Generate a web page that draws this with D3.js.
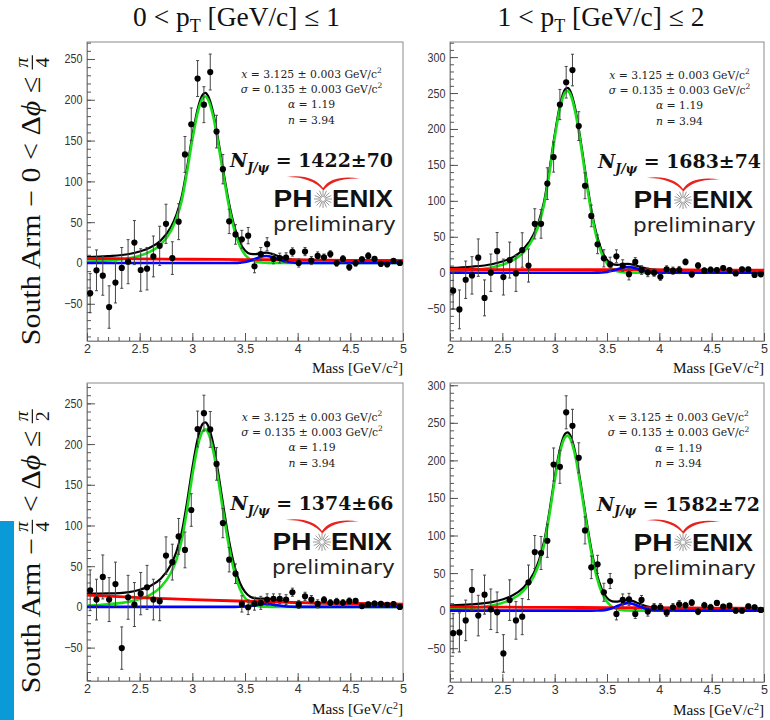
<!DOCTYPE html>
<html>
<head>
<meta charset="utf-8">
<title>J/ψ signal, South Arm</title>
<script src="https://cdn.jsdelivr.net/npm/d3@7"></script>
<style>
  html, body { margin: 0; padding: 0; background: #fff; }
  svg { display: block; }
</style>
</head>
<body>
<svg id="fig" width="770" height="720"></svg>
<script>
// ---------- binning and sampling grids (GeV/c^2) ----------
const binMass = [2.03, 2.09, 2.15, 2.21, 2.27, 2.33, 2.39, 2.45, 2.51, 2.57,
                 2.63, 2.69, 2.75, 2.81, 2.87, 2.93, 2.99, 3.05, 3.11, 3.17,
                 3.23, 3.29, 3.35, 3.41, 3.47, 3.53, 3.59, 3.65, 3.71, 3.77,
                 3.83, 3.89, 3.95, 4.01, 4.07, 4.13, 4.19, 4.25, 4.31, 4.37,
                 4.43, 4.49, 4.55, 4.61, 4.67, 4.73, 4.79, 4.85, 4.91, 4.97];
const curveMass = [2.0, 2.2, 2.4, 2.5, 2.6, 2.7, 2.8, 2.85, 2.9, 2.95, 3.0, 3.05, 3.1, 3.125, 3.15,
                   3.2, 3.25, 3.3, 3.35, 3.4, 3.45, 3.5, 3.55, 3.6, 3.65, 3.7, 3.75, 3.8, 3.9, 4.0, 4.5, 5.0];
const bkgMass = [2.0, 2.5, 3.0, 3.5, 4.0, 4.5, 5.0];
const xTicks = [2, 2.5, 3, 3.5, 4, 4.5, 5];

// ---------- 0 < pT <= 1, 0 < dphi <= pi/4 ----------
const countsA = [-37, -9, -15.5, -54, -24, -6, 1.6, 25, -8.6, -7, 8, 21, 48, 6, 50.6, 133, 170, 226, 194, 234,
                 161, 115, 51, 35, 29, 33.5, -4, 11, 23, 5, 6, 6.5, 13.5, 0, 14, 3, 8.6, 7, 11, 0,
                 5, -5, 0, 4.5, 8.6, 5, -1, -1.6, 2.5, 0];
const errorsA = [24, 25, 24, 26, 25, 25, 27, 27, 26, 26, 25, 24, 24, 20, 22, 22, 20, 22, 22, 22,
                 20, 18, 15, 12, 11, 10, 8, 8, 8, 6, 6, 6, 5, 5, 5, 5, 5, 4, 4, 4,
                 4, 4, 4, 3, 4, 3, 3, 3, 3, 3];
const jpsiA = [1.7, 3.1, 5.9, 9.0, 14.0, 22.6, 40.0, 55.0, 77.0, 112.0, 151.0, 184.0, 202.0, 204.0, 200.0,
               178.5, 143.0, 104.0, 68.0, 40.0, 21.0, 10.0, 4.3, 1.6, 0.5, 0.2, 0, 0, 0, 0, 0, 0];
const psi2sA = [0, 0, 0, 0, 0, 0, 0, 0, 0, 0, 0, 0, 0, 0, 0, 0, 0, 0, 0,
                0.1, 0.4, 1.1, 2.8, 5.2, 7.5, 8.5, 7.5, 5.2, 1.1, 0.1, 0, 0];
const bkgA = [5.5, 5.0, 4.6, 4.2, 3.7, 3.3, 2.8];
const totalA = [7.2, 8.4, 11.0, 14.0, 18.9, 27.5, 44.8, 59.7, 81.7, 116.6, 155.6, 188.5, 206.5, 208.5, 204.5,
                182.9, 147.4, 108.3, 72.3, 44.3, 25.6, 15.3, 11.2, 10.9, 12.0, 12.7, 11.4, 9.1, 4.9, 3.8, 3.3, 2.8];
const yRangeA = [-95.6, 270.8];
const yTicksA = [-50, 0, 50, 100, 150, 200, 250];
const yieldA = ["1422", "70"];

// ---------- 1 < pT <= 2, 0 < dphi <= pi/4 ----------
const countsB = [-25, -51, -9.8, -3.7, 21, -35, 0, 30, -6, 17.6, -1, 31.6, 10, 68, 68, 124, 161, 234, 265, 282,
                 204, 121, 79, 39.5, 20, 11.6, 22.8, 10, -2, 15, 3.7, 0.5, 0, -5.6, 4.6, 2.8, 3.7, 15, -2.3, 10,
                 2.8, 4, 3.7, 6.5, 3.7, -1, 4.6, 4.6, -3, -2.3];
const errorsB = [25, 27, 26, 26, 26, 25, 26, 26, 25, 25, 25, 24, 23, 21, 20, 22, 21, 21, 22, 22,
                 20, 18, 15, 13, 12, 10, 9, 8, 8, 6, 6, 6, 5, 5, 5, 5, 5, 4, 4, 4,
                 4, 4, 3, 3, 3, 3, 3, 3, 3, 3];
const jpsiB = [2.0, 3.8, 7.3, 11.1, 17.2, 28.1, 49.3, 67.8, 95.6, 138.6, 187.5, 228.5, 251.0, 253.0, 248.2,
               221.4, 177.9, 129.0, 84.2, 49.6, 26.3, 12.7, 5.3, 2.0, 0.7, 0.25, 0, 0, 0, 0, 0, 0];
const psi2sB = [0, 0, 0, 0, 0, 0, 0, 0, 0, 0, 0, 0, 0, 0, 0, 0, 0, 0, 0,
                0.1, 0.35, 1.1, 2.6, 4.9, 7.1, 8.0, 7.1, 4.9, 1.1, 0.1, 0, 0];
const bkgB = [4.6, 4.4, 4.2, 4.1, 3.9, 3.7, 3.5];
const totalB = [6.6, 8.3, 11.8, 15.5, 21.6, 32.4, 53.6, 72.1, 99.9, 142.9, 191.7, 232.7, 255.2, 257.2, 252.4,
                225.6, 182.1, 133.2, 88.4, 53.9, 30.8, 17.9, 12.0, 11.0, 11.8, 12.3, 11.1, 8.9, 5.0, 4.0, 3.7, 3.5];
const yRangeB = [-95, 321];
const yTicksB = [-50, 0, 50, 100, 150, 200, 250, 300];
const yieldB = ["1683", "74"];

// ---------- 0 < pT <= 1, pi/4 < dphi <= pi/2 ----------
const countsC = [20.4, 9, 36.8, 9, 28, -50.6, 11.8, 2.9, 16.3, 24, 9, 7, 63, 55, 86.6, 70, 119, 218.5, 238, 218,
                 175.6, 103, 58, 40.8, 3.7, -0.4, 4, 5, 9, 10, 10, 9, 18, 3, 13, 9, 3.7, 8.6, 5, 6.5,
                 5, 7, 7.4, 1, 3, 4, 3.7, 2.5, 3.3, 0];
const errorsC = [25, 25, 27, 27, 27, 26, 27, 27, 26, 27, 25, 24, 23, 22, 22, 22, 20, 22, 22, 22,
                 20, 18, 15, 12, 10, 9, 8, 8, 7, 6, 6, 6, 5, 5, 5, 5, 5, 4, 4, 4,
                 4, 4, 3, 3, 3, 3, 3, 3, 3, 3];
const jpsiC = [1.7, 3.3, 6.3, 9.6, 14.8, 24.2, 42.5, 58.4, 82.4, 119.5, 161.5, 196.9, 216.3, 218.0, 213.9,
               190.8, 153.3, 111.2, 72.6, 42.7, 22.7, 10.9, 4.6, 1.7, 0.6, 0.2, 0, 0, 0, 0, 0, 0];
const psi2sC = [0, 0, 0, 0, 0, 0, 0, 0, 0, 0, 0, 0, 0, 0, 0, 0, 0, 0, 0,
                0, 0.15, 0.5, 1.1, 2.1, 3.1, 3.5, 3.1, 2.1, 0.5, 0, 0, 0];
const bkgC = [14.5, 11.5, 9.0, 7.0, 5.3, 4.2, 3.5];
const totalC = [16.2, 16.5, 18.2, 21.1, 25.7, 34.5, 52.4, 68.1, 91.9, 128.7, 170.5, 205.9, 225.1, 226.7, 222.5,
                199.2, 161.4, 119.1, 80.3, 50.1, 30.0, 18.4, 12.5, 10.4, 10.2, 10.0, 9.3, 8.1, 6.1, 5.3, 4.2, 3.5];
const yRangeC = [-91, 275];
const yTicksC = [-50, 0, 50, 100, 150, 200, 250];
const yieldC = ["1374", "66"];

// ---------- 1 < pT <= 2, pi/4 < dphi <= pi/2 ----------
const countsD = [-30, -29, -13, 27.5, -6.6, 21.3, 1.8, -2.2, -57, 14, -13, -8, 37.7, 78, 76.7, 93, 194.5, 191.4, 264, 246,
                 203.4, 106.8, 57.6, 61.6, 24.4, 39.4, -4.4, 14.2, 15, -4.4, 14.2, -1.3, 4.4, 4.4, -2.7, 4.4, 8.4, 7, 10.6, -1.3,
                 7, 4.4, 10.2, 5.3, 6.6, 0, 0, 5.8, 4.4, 0.9];
const errorsD = [26, 26, 27, 27, 27, 26, 27, 27, 25, 27, 25, 24, 23, 22, 22, 22, 22, 22, 22, 22,
                 20, 18, 15, 12, 12, 10, 8, 8, 8, 6, 6, 6, 5, 5, 5, 5, 5, 4, 4, 4,
                 4, 4, 3, 3, 3, 3, 3, 3, 3, 3];
const jpsiD = [1.9, 3.5, 6.8, 10.3, 15.8, 25.9, 45.4, 62.4, 88.1, 127.7, 172.7, 210.4, 231.1, 233.0, 228.6,
               203.9, 163.8, 118.8, 77.6, 45.7, 24.2, 11.7, 4.9, 1.9, 0.7, 0.2, 0, 0, 0, 0, 0, 0];
const psi2sD = [0, 0, 0, 0, 0, 0, 0, 0, 0, 0, 0, 0, 0, 0, 0, 0, 0, 0, 0,
                0.1, 0.4, 1.35, 3.25, 6.1, 8.8, 10.0, 8.8, 6.1, 1.35, 0.1, 0, 0];
const bkgD = [4.9, 4.6, 4.3, 4.0, 3.7, 3.4, 3.1];
const totalD = [6.8, 8.3, 11.4, 14.9, 20.4, 30.5, 49.9, 66.9, 92.6, 132.1, 177.1, 214.8, 235.5, 237.4, 233.0,
                208.2, 168.1, 123.0, 81.8, 50.0, 28.7, 17.0, 12.4, 12.1, 13.3, 14.0, 12.6, 9.8, 5.0, 3.8, 3.4, 3.1];
const yRangeD = [-95, 303];
const yTicksD = [-50, 0, 50, 100, 150, 200, 250, 300];
const yieldD = ["1582", "72"];

// ---------- shared text ----------
const fitParamLines = [
  ["x", " = 3.125 ± 0.003 GeV/c", "2"],
  ["σ", " = 0.135 ± 0.003 GeV/c", "2"],
  ["α", " = 1.19", ""],
  ["n", " = 3.94", ""]
];
const ptTitles = [["0 < p", "T", " [GeV/c] ≤ 1"], ["1 < p", "T", " [GeV/c] ≤ 2"]];

// ---------- layout ----------
const panels = [
  { counts: countsA, errors: errorsA, jpsi: jpsiA, psi2s: psi2sA, bkg: bkgA, total: totalA,
    yRange: yRangeA, yTicks: yTicksA, yld: yieldA,
    box: { x0: 87, x1: 403, y0: 42, y1: 341 }, textCx: 311.5, logoCx: 323, logoBase: 209.5 },
  { counts: countsB, errors: errorsB, jpsi: jpsiB, psi2s: psi2sB, bkg: bkgB, total: totalB,
    yRange: yRangeB, yTicks: yTicksB, yld: yieldB,
    box: { x0: 450, x1: 764, y0: 42, y1: 341 }, textCx: 679.5, logoCx: 683, logoBase: 210.5 },
  { counts: countsC, errors: errorsC, jpsi: jpsiC, psi2s: psi2sC, bkg: bkgC, total: totalC,
    yRange: yRangeC, yTicks: yTicksC, yld: yieldC,
    box: { x0: 87, x1: 403, y0: 383, y1: 681 }, textCx: 312, logoCx: 322, logoBase: 552.5 },
  { counts: countsD, errors: errorsD, jpsi: jpsiD, psi2s: psi2sD, bkg: bkgD, total: totalD,
    yRange: yRangeD, yTicks: yTicksD, yld: yieldD,
    box: { x0: 450, x1: 764, y0: 383, y1: 682 }, textCx: 678.5, logoCx: 683, logoBase: 552.7 }
];

const svg = d3.select("#fig");
const defs = svg.append("defs");
const TICK_COLOR = "#555";
const FRAME_COLOR = "#8a8a8a";
const LABEL_SX = 0.86;   // tick labels are drawn slightly condensed

// scale a text element about its anchor point so that it spans the given width
function fitToWidth(sel, target, ax, ay) {
  const s = target / sel.node().getBBox().width;
  sel.attr("transform", `translate(${ax},${ay}) scale(${s}) translate(${-ax},${-ay})`);
}
// stretch or condense a text element horizontally only
function fitWidthX(sel, target, ax) {
  const s = target / sel.node().getBBox().width;
  sel.attr("transform", `translate(${ax},0) scale(${s},1) translate(${-ax},0)`);
}

// accent strip at the lower left edge
svg.append("rect").attr("x", 0).attr("y", 521).attr("width", 14).attr("height", 199).attr("fill", "#0b9ad8");

panels.forEach((p, k) => {
  const b = p.box;
  const x = d3.scaleLinear().domain([2, 5]).range([b.x0, b.x1]);
  const y = d3.scaleLinear().domain(p.yRange).range([b.y1, b.y0]);
  const g = svg.append("g");

  const clipId = "clip" + k;
  defs.append("clipPath").attr("id", clipId)
    .append("rect").attr("x", b.x0).attr("y", b.y0).attr("width", b.x1 - b.x0).attr("height", b.y1 - b.y0);

  // frame
  g.append("rect").attr("x", b.x0).attr("y", b.y0).attr("width", b.x1 - b.x0).attr("height", b.y1 - b.y0)
    .attr("fill", "none").attr("stroke", FRAME_COLOR).attr("stroke-width", 1);

  // axes: inward major / minor ticks on left and bottom
  const yMinor = d3.range(Math.ceil(p.yRange[0] / 10) * 10, p.yRange[1], 10);
  const xMinor = d3.range(20, 51).map(v => v / 10);

  const yAx = g.append("g").attr("transform", `translate(${b.x0},0)`)
    .call(d3.axisLeft(y).tickValues(p.yTicks).tickSize(-8).tickSizeOuter(0).tickPadding(4).tickFormat(d3.format("d")));
  g.append("g").attr("transform", `translate(${b.x0},0)`)
    .call(d3.axisLeft(y).tickValues(yMinor).tickSize(-4).tickSizeOuter(0).tickFormat(""))
    .select(".domain").remove();
  const xAx = g.append("g").attr("transform", `translate(0,${b.y1})`)
    .call(d3.axisBottom(x).tickValues(xTicks).tickSize(-8).tickSizeOuter(0).tickPadding(3).tickFormat(d3.format("")));
  g.append("g").attr("transform", `translate(0,${b.y1})`)
    .call(d3.axisBottom(x).tickValues(xMinor).tickSize(-4).tickSizeOuter(0).tickFormat(""))
    .select(".domain").remove();

  g.selectAll(".domain").attr("stroke", FRAME_COLOR);
  g.selectAll(".tick line").attr("stroke", TICK_COLOR);
  [yAx, xAx].forEach(a => a.selectAll("text")
      .attr("font-family", "'Liberation Sans', Arial, sans-serif").attr("font-size", 12.5).attr("fill", "#333"));
  yAx.selectAll("text").attr("x", -4.5 / LABEL_SX).attr("transform", `scale(${LABEL_SX},1)`);

  // fit curves
  const curves = g.append("g").attr("clip-path", `url(#${clipId})`).attr("fill", "none").attr("stroke-linejoin", "round");
  const line = d3.line().x(d => x(d[0])).y(d => y(d[1])).curve(d3.curveMonotoneX);
  const pair = (xs, ys) => xs.map((v, i) => [v, ys[i]]);
  curves.append("path").attr("d", line(pair(curveMass, p.total))).attr("stroke", "#000").attr("stroke-width", 2.2);
  curves.append("path").attr("d", line(pair(curveMass, p.jpsi))).attr("stroke", "#19dd19").attr("stroke-width", 2.6);
  curves.append("path").attr("d", line(pair(bkgMass, p.bkg))).attr("stroke", "#ff0000").attr("stroke-width", 2.8);
  curves.append("path").attr("d", line(pair(curveMass, p.psi2s))).attr("stroke", "#0000ff").attr("stroke-width", 2.6);

  // data points with vertical error bars
  const pts = binMass.map((m, i) => ({ m, v: p.counts[i], e: p.errors[i] }));
  const dg = g.append("g").attr("clip-path", `url(#${clipId})`);
  dg.selectAll("line.bar").data(pts).join("line").attr("class", "bar")
    .attr("x1", d => x(d.m)).attr("x2", d => x(d.m))
    .attr("y1", d => y(d.v - d.e)).attr("y2", d => y(d.v + d.e))
    .attr("stroke", "#444").attr("stroke-width", 1);
  dg.selectAll("path.cap").data(pts).join("path").attr("class", "cap")
    .attr("d", d => `M${x(d.m) - 1.5},${y(d.v - d.e)}h3M${x(d.m) - 1.5},${y(d.v + d.e)}h3`)
    .attr("stroke", "#444").attr("stroke-width", 1);
  dg.selectAll("circle").data(pts).join("circle")
    .attr("cx", d => x(d.m)).attr("cy", d => y(d.v)).attr("r", 3.1).attr("fill", "#000");

  // x-axis title
  const xtY = b.y1 + (k < 2 ? 32.5 : 33);
  const xt = g.append("text").attr("x", b.x1).attr("y", xtY)
    .attr("text-anchor", "end").attr("font-family", "'Liberation Serif', 'Times New Roman', serif")
    .attr("font-size", 16).attr("fill", "#111");
  xt.append("tspan").text("Mass [GeV/c");
  xt.append("tspan").attr("font-size", 10.5).attr("dy", -5.5).text("2");
  xt.append("tspan").attr("dy", 5.5).text("]");
  fitToWidth(xt, 91, b.x1, xtY);

  // fit parameter block
  const base = p.logoBase;
  const pg = g.append("g").attr("font-family", "'DejaVu Serif', serif").attr("font-size", 10.8).attr("fill", "#222");
  fitParamLines.forEach((ln, i) => {
    const t = pg.append("text").attr("x", p.textCx).attr("y", base - 132 + i * 15.4).attr("text-anchor", "middle");
    t.append("tspan").attr("font-style", "italic").text(ln[0]);
    t.append("tspan").text(ln[1]);
    if (ln[2]) t.append("tspan").attr("font-size", 7.5).attr("dy", -4.5).text(ln[2]);
  });

  // yield
  const ny = g.append("text").attr("x", p.textCx).attr("y", base - 42).attr("text-anchor", "middle")
    .attr("font-family", "'DejaVu Serif', serif").attr("font-weight", "bold").attr("font-size", 20).attr("fill", "#111");
  ny.append("tspan").attr("font-style", "italic").text("N");
  ny.append("tspan").attr("font-style", "italic").attr("font-size", 13).attr("dy", 5).text("J/ψ");
  ny.append("tspan").attr("dy", -5).text(" = " + p.yld[0] + "±" + p.yld[1]);
  fitToWidth(ny, 164, p.textCx, base - 42);

  // collaboration mark: swoosh, star, and the two-line word mark
  const cx = p.logoCx;
  const wy = base - 2;            // baseline of the word mark
  const lg = g.append("g");
  lg.append("path")
    .attr("d", `M${cx - 36.5},${wy - 30.5} Q${cx - 11},${wy - 34} ${cx},${wy - 19.5}` +
               ` Q${cx + 9},${wy - 33} ${cx + 37},${wy - 29}` +
               ` Q${cx + 10},${wy - 30} ${cx + 0.5},${wy - 17}` +
               ` Q${cx - 12},${wy - 31} ${cx - 36.5},${wy - 30.5}Z`)
    .attr("fill", "#e8231f");
  const star = lg.append("g").attr("stroke", "#9a9a9a").attr("stroke-width", 1);
  d3.range(16).forEach(j => {
    const a = j * Math.PI / 8;
    star.append("line")
      .attr("x1", cx + 2 * Math.cos(a)).attr("y1", wy - 8.5 + 2 * Math.sin(a))
      .attr("x2", cx + 9 * Math.cos(a)).attr("y2", wy - 8.5 + 9 * Math.sin(a));
  });
  const ph = lg.append("text").attr("x", cx - 49.5).attr("y", wy)
    .attr("font-family", "'Liberation Sans', Arial, sans-serif").attr("font-weight", "bold").attr("font-size", 24)
    .attr("fill", "#111").text("PH");
  fitWidthX(ph, 39, cx - 49.5);
  const enix = lg.append("text").attr("x", cx + 9).attr("y", wy)
    .attr("font-family", "'Liberation Sans', Arial, sans-serif").attr("font-weight", "bold").attr("font-size", 24)
    .attr("fill", "#111").text("ENIX");
  fitWidthX(enix, 61, cx + 9);
  const prelim = lg.append("text").attr("x", cx - 50).attr("y", base + 22)
    .attr("font-family", "'DejaVu Sans', Verdana, sans-serif").attr("font-size", 20)
    .attr("fill", "#222").text("preliminary");
  fitWidthX(prelim, 123, cx - 50);
});

// column titles
[[236.5, ptTitles[0]], [601, ptTitles[1]]].forEach(([cx, parts]) => {
  const t = svg.append("text").attr("x", cx).attr("y", 26.5).attr("text-anchor", "middle")
    .attr("font-family", "'Liberation Serif', 'Times New Roman', serif").attr("font-size", 29).attr("fill", "#111");
  t.append("tspan").text(parts[0]);
  t.append("tspan").attr("font-size", 19).attr("dy", 6).text(parts[1]);
  t.append("tspan").attr("dy", -6).text(parts[2]);
  fitToWidth(t, 207, cx, 26.5);
});

// row titles (rotated, with stacked fractions)
function sideLabel(bx, cy, pieces) {
  const g = svg.append("g").attr("transform", `translate(${bx},${cy}) rotate(-90) scale(1,0.9)`)
    .attr("font-family", "'Liberation Serif', 'Times New Roman', serif").attr("font-size", 30).attr("fill", "#111");
  const inner = g.append("g");
  let cur = 0;
  pieces.forEach(pc => {
    if (pc.frac) {
      const num = inner.append("text").attr("font-size", 20).attr("font-style", "italic").attr("text-anchor", "middle").text(pc.frac[0]);
      const den = inner.append("text").attr("font-size", 20).attr("text-anchor", "middle").text(pc.frac[1]);
      const w = Math.max(num.node().getComputedTextLength(), den.node().getComputedTextLength()) + 5;
      num.attr("x", cur + w / 2).attr("y", -13);
      den.attr("x", cur + w / 2).attr("y", 9.5);
      inner.append("line").attr("x1", cur + 0.5).attr("x2", cur + w - 0.5).attr("y1", -8.5).attr("y2", -8.5)
        .attr("stroke", "#111").attr("stroke-width", 1.3);
      cur += w + (pc.after || 0);
      return;
    }
    const t = inner.append("text").attr("x", cur).style("white-space", "pre");
    pc.runs.forEach(([s, it]) => t.append("tspan").attr("font-style", it ? "italic" : null).text(s));
    cur += t.node().getComputedTextLength() + (pc.after || 0);
  });
  inner.attr("transform", `translate(${-cur / 2},0)`);
}
sideLabel(40, 200, [{ runs: [["South Arm − 0 < Δ", false], ["ϕ", true], [" ≤", false]], after: 7 },
                    { frac: ["π", "4"] }]);
sideLabel(40, 551, [{ runs: [["South Arm −", false]], after: 4 },
                    { frac: ["π", "4"], after: 7 },
                    { runs: [["< Δ", false], ["ϕ", true], [" ≤", false]], after: 7 },
                    { frac: ["π", "2"] }]);
</script>
</body>
</html>
